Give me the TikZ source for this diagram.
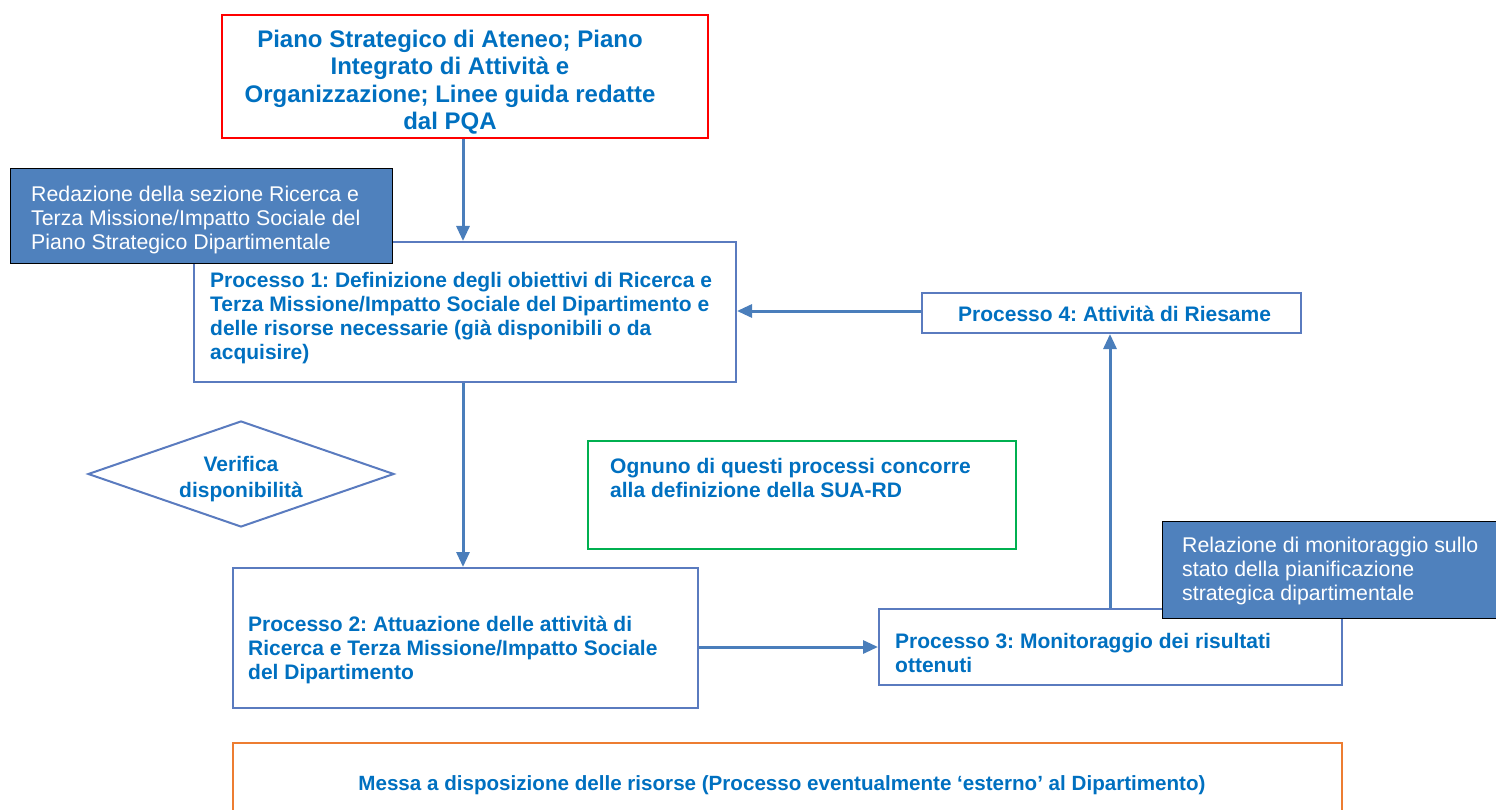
\documentclass[tikz,border=0pt]{standalone}
\usepackage{fontspec}
\setmainfont{Liberation Sans}
\usetikzlibrary{arrows.meta,shapes.geometric}
\definecolor{txtblue}{HTML}{0070C0}
\definecolor{boxblue}{HTML}{5A7BBF}
\definecolor{arrblue}{HTML}{4A7EBB}
\definecolor{darkfill}{HTML}{4F81BD}
\definecolor{redb}{HTML}{FF0000}
\definecolor{greenb}{HTML}{00B050}
\definecolor{orangeb}{HTML}{ED7D31}
\frenchspacing
\tikzset{
  frame/.style={draw=boxblue, line width=2pt, fill=white, anchor=north west, inner sep=0pt},
  darkbox/.style={draw=black, line width=1.2pt, fill=darkfill, anchor=north west, inner sep=0pt},
  ptext/.style={text=txtblue, font=\bfseries\fontsize{21}{24}\selectfont, align=left, anchor=west, inner sep=0pt},
  wtext/.style={text=white, font=\fontsize{21.3}{24}\selectfont, align=left, anchor=west, inner sep=0pt},
  arr/.style={draw=arrblue, line width=3pt, -{Triangle[length=15pt,width=13pt]}}
}
\begin{document}
\begin{tikzpicture}[x=1pt,y=-1pt]
\useasboundingbox (0,0) rectangle (1496,810);
% top red box
\node[draw=redb, line width=2pt, anchor=north west, minimum width=486pt, minimum height=123pt, inner sep=0pt] (top) at (221,14) {};
\node[text=txtblue, font=\bfseries\fontsize{24}{27.5}\selectfont, align=center, inner sep=0pt] (topt) at (450,82) {Piano Strategico di Ateneo; Piano\\Integrato di Attività e\\Organizzazione; Linee guida redatte\\dal PQA};
% process boxes
\node[frame, minimum width=542pt, minimum height=140pt] (p1) at (193,241) {};
\node[ptext] (p1t) at (210,318) {Processo 1: Definizione degli obiettivi di Ricerca e\\Terza Missione/Impatto Sociale del Dipartimento e\\delle risorse necessarie (già disponibili o da\\acquisire)};
\node[frame, minimum width=379pt, minimum height=40pt] (p4) at (921,292) {};
\node[ptext] (p4t) at (958,314) {Processo 4: Attività di Riesame};
\node[frame, minimum width=465pt, minimum height=140pt] (p2) at (232,567) {};
\node[ptext] (p2t) at (248,650) {Processo 2: Attuazione delle attività di\\Ricerca e Terza Missione/Impatto Sociale\\del Dipartimento};
\node[frame, minimum width=463pt, minimum height=76pt] (p3) at (878,608) {};
\node[ptext] (p3t) at (895,653) {Processo 3: Monitoraggio dei risultati\\ottenuti};
% green box
\node[draw=greenb, line width=2pt, anchor=north west, minimum width=428pt, minimum height=108pt, inner sep=0pt] (green) at (587,440) {};
\node[ptext] (greent) at (610,478) {Ognuno di questi processi concorre\\alla definizione della SUA-RD};
% diamond
\node[diamond, draw=boxblue, line width=2pt, minimum width=306pt, minimum height=106pt, inner sep=0pt] (dia) at (241,474) {};
\node[text=txtblue, font=\bfseries\fontsize{21}{26}\selectfont, align=center, inner sep=0pt] (diat) at (241,479) {Verifica\\disponibilità};
% orange box
\node[draw=orangeb, line width=2pt, anchor=north west, minimum width=1109pt, minimum height=100pt, inner sep=0pt] (ext) at (232,742) {};
\node[text=txtblue, font=\bfseries\fontsize{20.6}{24}\selectfont, inner sep=0pt] (extt) at (782,785) {Messa a disposizione delle risorse (Processo eventualmente ‘esterno’ al Dipartimento)};
% arrows
\draw[arr] (top.south -| 463,0) -- (p1.north -| 463,0);
\draw[arr] (p1.south -| 463,0) -- (p2.north -| 463,0);
\draw[arr] (p4.west |- 0,311) -- (p1.east |- 0,311);
\draw[arr] (p2.east |- 0,647) -- (p3.west |- 0,647);
\draw[arr] (p3.north -| 1110,0) -- (p4.south -| 1110,0);
% dark boxes
\node[darkbox, minimum width=382pt, minimum height=95pt] (red1) at (10,168) {};
\node[wtext] (red1t) at (31,220) {Redazione della sezione Ricerca e\\Terza Missione/Impatto Sociale del\\Piano Strategico Dipartimentale};
\node[darkbox, minimum width=345pt, minimum height=97pt] (red2) at (1162,521) {};
\node[wtext] (red2t) at (1182,571) {Relazione di monitoraggio sullo\\stato della pianificazione\\strategica dipartimentale};
\end{tikzpicture}
\end{document}
